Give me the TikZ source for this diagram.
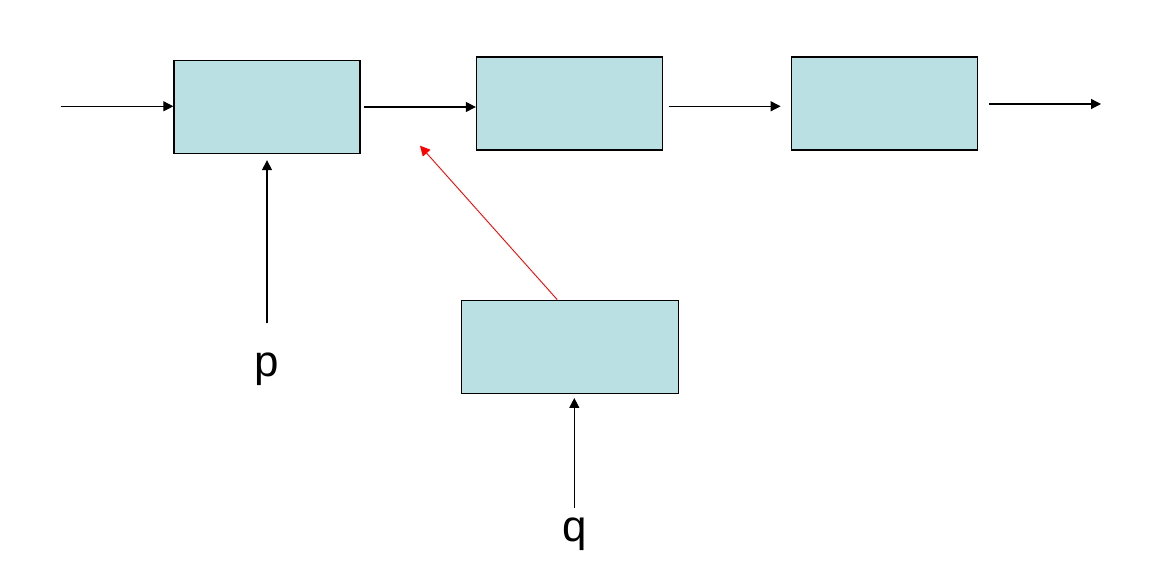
\documentclass[tikz,border=0pt]{standalone}
\usepackage{fontspec}
\setmainfont{Liberation Sans}
\usepackage{xcolor}
\usepackage{tikz}
\usetikzlibrary{arrows.meta}

\definecolor{boxfill}{RGB}{187,224,227}

\tikzset{
  block/.style={draw=black, line width=0.75pt, fill=boxfill, minimum width=3.72cm, minimum height=1.86cm, inner sep=0pt},
  arr/.style={line width=0.7pt, -{Triangle[length=0.2cm, width=0.2cm]}},
  label/.style={font=\fontsize{25}{30}\selectfont, anchor=base, inner sep=0pt}
}

\begin{document}
\begin{tikzpicture}

\useasboundingbox (0,0) rectangle (23.16,-11.56);

\node[block] (b1) at (5.34,-2.14) {};
\node[block] (b2) at (11.39,-2.073) {};
\node[block] (b3) at (17.686,-2.073) {};
\node[block, minimum width=4.34cm] (b4) at (11.404,-6.936) {};

\coordinate (in) at (1.214,-2.126);
\coordinate (out) at (22.02,-2.08);
\coordinate (tip) at (8.4,-2.914);
\coordinate (pin) at (5.34,-6.466);
\coordinate (qin) at (11.486,-10.154);

\node[label] (p) at (5.34,-7.534) {p};
\node[label] (q) at (11.486,-10.834) {q};

\draw[arr] (in) -- (b1.west |- in);
\draw[arr, shorten <=0.06cm] (b1.east) -- (b2.west |- b1.east);
\draw[arr, shorten <=0.11cm, shorten >=0.2cm] ([yshift=-0.053cm]b2.east) -- ([yshift=-0.053cm]b3.west);
\draw[arr, shorten <=0.22cm] (b3.east |- out) -- (out);

\draw[arr, shorten >=0.12cm] (pin) -- (b1.south);
\draw[arr, shorten >=0.08cm] (qin) -- (b4.south -| qin);

\draw[arr, red, line width=0.5pt] ([xshift=-0.26cm]b4.north) -- (tip);

\end{tikzpicture}
\end{document}
